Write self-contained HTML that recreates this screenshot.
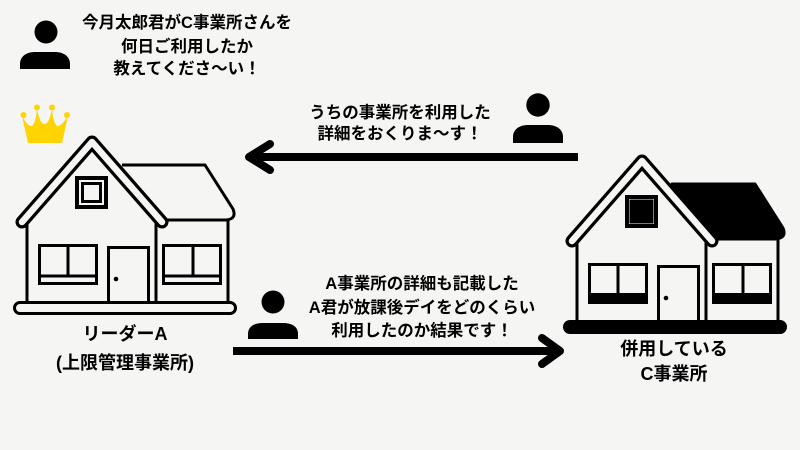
<!DOCTYPE html>
<html><head><meta charset="utf-8"><style>
html,body{margin:0;padding:0;background:#f5f5f3;}
svg{display:block;}
text{font-family:"Liberation Sans","Noto Sans CJK JP",sans-serif;font-weight:700;fill:#000;}
</style></head><body>
<svg width="800" height="450" viewBox="0 0 800 450" xmlns="http://www.w3.org/2000/svg">
<rect width="800" height="450" fill="#f5f5f3"/>
<defs>
<g id="houseBase" fill="none" stroke="#000" stroke-width="3">
</g>
</defs>

<!-- Left house -->
<g stroke="#000" stroke-width="3" fill="none">
  <path d="M122 165 L205 165 L233 209 Q237 219 226 220 L162 220" stroke-linejoin="round"/>
  <line x1="27" y1="222" x2="27" y2="302"/>
  <line x1="156" y1="215" x2="156" y2="302"/>
  <line x1="228" y1="219" x2="228" y2="302"/>
  <rect x="14.5" y="302.5" width="221" height="11" rx="5.5" fill="#f5f5f3"/>
  <rect x="77" y="178" width="29" height="29" stroke-width="4"/>
  <rect x="82.5" y="183.5" width="18" height="18"/>
  <rect x="39.5" y="245.5" width="57" height="38"/>
  <line x1="68" y1="245" x2="68" y2="276"/>
  <line x1="39" y1="276" x2="97" y2="276"/>
  <rect x="163.5" y="245.5" width="57" height="38"/>
  <line x1="193" y1="245" x2="193" y2="276"/>
  <line x1="163" y1="276" x2="221" y2="276"/>
  <path d="M108.5 302 L108.5 247.5 L148.5 247.5 L148.5 302"/>
  <circle cx="116" cy="279" r="2.3" fill="#000" stroke="none"/>
  <polyline points="22,222 92,142 162,222" stroke-width="13" stroke-linecap="round" stroke-linejoin="round"/>
  <polyline points="22,222 92,142 162,222" stroke="#f5f5f3" stroke-width="6.5" stroke-linecap="round" stroke-linejoin="round"/>
</g>

<!-- Right house -->
<g transform="translate(550,19)" stroke="#000" stroke-width="3" fill="none">
  <path d="M122 165 L205 165 L233 209 Q237 219 226 220 L162 220 L122 170 Z" fill="#000" stroke-linejoin="round"/>
  <line x1="27" y1="222" x2="27" y2="302"/>
  <line x1="156" y1="215" x2="156" y2="302"/>
  <line x1="228" y1="219" x2="228" y2="302"/>
  <rect x="14.5" y="302.5" width="221" height="11" rx="5.5" fill="#000"/>
  <rect x="77" y="178" width="29" height="29" stroke-width="4"/>
  <rect x="81" y="182" width="21" height="21" fill="#000"/>
  <rect x="39.5" y="245.5" width="57" height="38"/>
  <line x1="68" y1="245" x2="68" y2="276"/>
  <rect x="39" y="274" width="58" height="10" fill="#000" stroke="none"/>
  <rect x="163.5" y="245.5" width="57" height="38"/>
  <line x1="193" y1="245" x2="193" y2="276"/>
  <rect x="163" y="274" width="58" height="10" fill="#000" stroke="none"/>
  <path d="M108.5 302 L108.5 247.5 L148.5 247.5 L148.5 302"/>
  <circle cx="116" cy="279" r="2.3" fill="#000" stroke="none"/>
  <polyline points="22,222 92,142 162,222" stroke-width="13" stroke-linecap="round" stroke-linejoin="round"/>
  <polyline points="22,222 92,142 162,222" stroke="#f5f5f3" stroke-width="6.5" stroke-linecap="round" stroke-linejoin="round"/>
</g>

<!-- Crown -->
<g fill="#ffd400">
  <circle cx="23.5" cy="115" r="3"/>
  <circle cx="37" cy="107.5" r="3"/>
  <circle cx="52" cy="107.5" r="3"/>
  <circle cx="67" cy="115" r="3"/>
  <path d="M28 143 L22 116 Q28 127 32 126 Q36 122 37 109 Q40 124 44.5 124 Q49 124 52 109 Q53 122 57 126 Q61 127 68 116 L62 143 Z"/>
</g>

<!-- Persons -->
<g fill="#000">
  <circle cx="46" cy="32" r="11.5"/>
  <path d="M20 69 L20 64 C20 56 27 52 35 52 L55 52 C63 52 70 56 70 64 L70 69 Z"/>
  <circle cx="538" cy="105" r="11.7"/>
  <path d="M513 143 L513 137 C513 129 520 125 528 125 L548 125 C556 125 563 129 563 137 L563 143 Z"/>
  <circle cx="273" cy="302" r="11.5"/>
  <path d="M248 339 L248 334 C248 326 255 323 263 323 L283 323 C291 323 298 326 298 334 L298 339 Z"/>
</g>

<!-- Arrows -->
<g stroke="#000" stroke-width="8" fill="none">
  <line x1="252" y1="157" x2="578" y2="157"/>
  <polyline points="270,144 249,157 270,170" stroke-linecap="round" stroke-linejoin="round"/>
  <line x1="233" y1="351" x2="556" y2="351"/>
  <polyline points="542,338 560,351 542,364" stroke-linecap="round" stroke-linejoin="round"/>
</g>

<!-- Texts -->
<g font-size="16.5" text-anchor="middle">
  <text x="187" y="28">今月太郎君がC事業所さんを</text>
  <text x="187" y="52">何日ご利用したか</text>
  <text x="187" y="74">教えてくださ〜い！</text>
  <text x="400" y="118">うちの事業所を利用した</text>
  <text x="400" y="139">詳細をおくりま〜す！</text>
  <text x="422" y="289">A事業所の詳細も記載した</text>
  <text x="422" y="313">A君が放課後デイをどのくらい</text>
  <text x="422" y="336">利用したのか結果です！</text>
</g>
<g font-size="18" text-anchor="middle">
  <text x="125" y="340">リーダーA</text>
  <text x="125" y="369">(上限管理事業所)</text>
  <text x="674" y="355">併用している</text>
  <text x="674" y="380">C事業所</text>
</g>
</svg>
</body></html>
